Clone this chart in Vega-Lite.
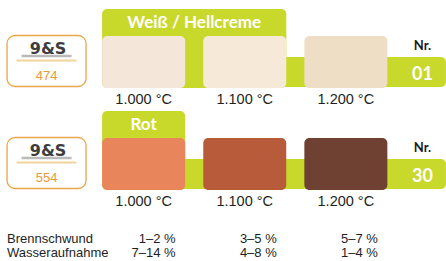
{
  "$schema": "https://vega.github.io/schema/vega-lite/v6.json",
  "padding": 0,
  "spacing": 0,
  "bounds": "flush",
  "background": "white",
  "config": {"view": {"stroke": null}},
  "datasets": {
    "produkte": [
      {"code": "474", "marke": "9&S", "name": "Weiß / Hellcreme", "nr": "01", "kopf_von": "1.000 °C", "kopf_bis": "1.100 °C"},
      {"code": "554", "marke": "9&S", "name": "Rot", "nr": "30", "kopf_von": "1.000 °C", "kopf_bis": "1.000 °C"}
    ],
    "proben": [
      {"code": "474", "temp": "1.000 °C", "probe": "474 bei 1.000 °C"},
      {"code": "474", "temp": "1.100 °C", "probe": "474 bei 1.100 °C"},
      {"code": "474", "temp": "1.200 °C", "probe": "474 bei 1.200 °C"},
      {"code": "554", "temp": "1.000 °C", "probe": "554 bei 1.000 °C"},
      {"code": "554", "temp": "1.100 °C", "probe": "554 bei 1.100 °C"},
      {"code": "554", "temp": "1.200 °C", "probe": "554 bei 1.200 °C"}
    ],
    "merkmale": [
      {"merkmal": "Brennschwund"},
      {"merkmal": "Wasseraufnahme"}
    ],
    "tabelle": [
      {"merkmal": "Brennschwund", "temp": "1.000 °C", "wert": "1–2 %"},
      {"merkmal": "Brennschwund", "temp": "1.100 °C", "wert": "3–5 %"},
      {"merkmal": "Brennschwund", "temp": "1.200 °C", "wert": "5–7 %"},
      {"merkmal": "Wasseraufnahme", "temp": "1.000 °C", "wert": "7–14 %"},
      {"merkmal": "Wasseraufnahme", "temp": "1.100 °C", "wert": "4–8 %"},
      {"merkmal": "Wasseraufnahme", "temp": "1.200 °C", "wert": "1–4 %"}
    ]
  },
  "vconcat": [
    {
      "width": 446,
      "height": 204,
      "resolve": {"scale": {"x": "independent"}},
      "layer": [
        {
          "layer": [
            {
              "data": {"name": "produkte"},
              "mark": {"type": "rect", "fill": "#c9d92c", "cornerRadius": 5, "height": 79, "yOffset": -2.5},
              "encoding": {
                "x": {"field": "kopf_von", "type": "nominal", "bandPosition": 0, "scale": {"type": "band", "domain": ["Probe", "1.000 °C", "1.100 °C", "1.200 °C", "Nr."], "range": [-8, 497.5], "paddingInner": 0.178, "paddingOuter": 0.089}, "axis": null},
                "x2": {"field": "kopf_bis", "bandPosition": 1},
                "y": {"field": "code", "type": "nominal", "scale": {"type": "band", "domain": ["474", "554"], "range": [0, 204], "paddingInner": 0, "paddingOuter": 0}, "axis": null}
              }
            },
            {
              "data": {"name": "produkte"},
              "mark": {"type": "rect", "fill": "#c9d92c", "cornerRadius": 5, "height": 30, "yOffset": 21, "x2Offset": -1},
              "encoding": {
                "x": {"field": "kopf_von", "type": "nominal", "bandPosition": 0.5, "scale": {"type": "band", "domain": ["Probe", "1.000 °C", "1.100 °C", "1.200 °C", "Nr."], "range": [-8, 497.5], "paddingInner": 0.178, "paddingOuter": 0.089}, "axis": null},
                "x2": {"datum": "Nr.", "bandPosition": 0.5},
                "y": {"field": "code", "type": "nominal", "scale": {"type": "band", "domain": ["474", "554"], "range": [0, 204], "paddingInner": 0, "paddingOuter": 0}, "axis": null}
              }
            },
            {
              "data": {"name": "proben"},
              "mark": {"type": "rect", "cornerRadius": 5, "width": 83, "height": 52, "yOffset": 11},
              "encoding": {
                "x": {"field": "temp", "type": "nominal", "scale": {"type": "band", "domain": ["Probe", "1.000 °C", "1.100 °C", "1.200 °C", "Nr."], "range": [-8, 497.5], "paddingInner": 0.178, "paddingOuter": 0.089}, "axis": null},
                "y": {"field": "code", "type": "nominal", "scale": {"type": "band", "domain": ["474", "554"], "range": [0, 204], "paddingInner": 0, "paddingOuter": 0}, "axis": null},
                "fill": {
                  "field": "probe", "type": "nominal", "legend": null,
                  "scale": {
                    "domain": ["474 bei 1.000 °C", "474 bei 1.100 °C", "474 bei 1.200 °C", "554 bei 1.000 °C", "554 bei 1.100 °C", "554 bei 1.200 °C"],
                    "range": ["#f5e6da", "#f7e9d8", "#efdec6", "#e8855a", "#b75b3b", "#6e4133"]
                  }
                }
              }
            },
            {
              "data": {"name": "proben"},
              "mark": {"type": "text", "font": "Arial, Liberation Sans, sans-serif", "fontSize": 14.5, "fill": "#231f20", "baseline": "alphabetic", "dy": 53},
              "encoding": {
                "x": {"field": "temp", "type": "nominal", "scale": {"type": "band", "domain": ["Probe", "1.000 °C", "1.100 °C", "1.200 °C", "Nr."], "range": [-8, 497.5], "paddingInner": 0.178, "paddingOuter": 0.089}, "axis": null},
                "y": {"field": "code", "type": "nominal", "scale": {"type": "band", "domain": ["474", "554"], "range": [0, 204], "paddingInner": 0, "paddingOuter": 0}, "axis": null},
                "text": {"field": "temp"}
              }
            },
            {
              "data": {"name": "produkte"},
              "mark": {"type": "rect", "fill": "white", "stroke": "#eaa449", "strokeWidth": 1.3, "cornerRadius": 8, "width": 79, "height": 51, "xOffset": 4, "yOffset": 10},
              "encoding": {
                "x": {"datum": "Probe", "type": "nominal", "scale": {"type": "band", "domain": ["Probe", "1.000 °C", "1.100 °C", "1.200 °C", "Nr."], "range": [-8, 497.5], "paddingInner": 0.178, "paddingOuter": 0.089}, "axis": null},
                "y": {"field": "code", "type": "nominal", "scale": {"type": "band", "domain": ["474", "554"], "range": [0, 204], "paddingInner": 0, "paddingOuter": 0}, "axis": null}
              }
            },
            {
              "data": {"name": "produkte"},
              "mark": {"type": "rect", "fill": "#8c8c8c", "opacity": 0.6, "width": 50, "height": 2.5, "xOffset": 4, "yOffset": 5},
              "encoding": {
                "x": {"datum": "Probe", "type": "nominal", "scale": {"type": "band", "domain": ["Probe", "1.000 °C", "1.100 °C", "1.200 °C", "Nr."], "range": [-8, 497.5], "paddingInner": 0.178, "paddingOuter": 0.089}, "axis": null},
                "y": {"field": "code", "type": "nominal", "scale": {"type": "band", "domain": ["474", "554"], "range": [0, 204], "paddingInner": 0, "paddingOuter": 0}, "axis": null}
              }
            },
            {
              "data": {"name": "produkte"},
              "mark": {"type": "rect", "fill": "#f1d39c", "width": 60, "height": 2, "xOffset": 4, "yOffset": 9.5},
              "encoding": {
                "x": {"datum": "Probe", "type": "nominal", "scale": {"type": "band", "domain": ["Probe", "1.000 °C", "1.100 °C", "1.200 °C", "Nr."], "range": [-8, 497.5], "paddingInner": 0.178, "paddingOuter": 0.089}, "axis": null},
                "y": {"field": "code", "type": "nominal", "scale": {"type": "band", "domain": ["474", "554"], "range": [0, 204], "paddingInner": 0, "paddingOuter": 0}, "axis": null}
              }
            },
            {
              "data": {"name": "produkte"},
              "mark": {"type": "text", "font": "DejaVu Sans", "fontWeight": "bold", "fontSize": 16, "letterSpacing": 3, "fill": "#3d3d3d", "baseline": "alphabetic", "dx": 5.5, "dy": 2.5},
              "encoding": {
                "x": {"datum": "Probe", "type": "nominal", "scale": {"type": "band", "domain": ["Probe", "1.000 °C", "1.100 °C", "1.200 °C", "Nr."], "range": [-8, 497.5], "paddingInner": 0.178, "paddingOuter": 0.089}, "axis": null},
                "y": {"field": "code", "type": "nominal", "scale": {"type": "band", "domain": ["474", "554"], "range": [0, 204], "paddingInner": 0, "paddingOuter": 0}, "axis": null},
                "text": {"field": "marke"}
              }
            },
            {
              "data": {"name": "produkte"},
              "mark": {"type": "text", "font": "Arial, Liberation Sans, sans-serif", "fontSize": 13, "fill": "#e8993b", "baseline": "alphabetic", "dx": 4, "dy": 29},
              "encoding": {
                "x": {"datum": "Probe", "type": "nominal", "scale": {"type": "band", "domain": ["Probe", "1.000 °C", "1.100 °C", "1.200 °C", "Nr."], "range": [-8, 497.5], "paddingInner": 0.178, "paddingOuter": 0.089}, "axis": null},
                "y": {"field": "code", "type": "nominal", "scale": {"type": "band", "domain": ["474", "554"], "range": [0, 204], "paddingInner": 0, "paddingOuter": 0}, "axis": null},
                "text": {"field": "code"}
              }
            },
            {
              "data": {"name": "produkte"},
              "mark": {"type": "text", "font": "Lato", "fontWeight": "bold", "fontSize": 13, "fill": "#1a1a1a", "baseline": "alphabetic", "dx": -24.5, "dy": -1},
              "encoding": {
                "x": {"datum": "Nr.", "type": "nominal", "scale": {"type": "band", "domain": ["Probe", "1.000 °C", "1.100 °C", "1.200 °C", "Nr."], "range": [-8, 497.5], "paddingInner": 0.178, "paddingOuter": 0.089}, "axis": null},
                "y": {"field": "code", "type": "nominal", "scale": {"type": "band", "domain": ["474", "554"], "range": [0, 204], "paddingInner": 0, "paddingOuter": 0}, "axis": null},
                "text": {"value": "Nr."}
              }
            },
            {
              "data": {"name": "produkte"},
              "mark": {"type": "text", "font": "Lato", "fontWeight": "bold", "fontSize": 18, "fill": "white", "baseline": "alphabetic", "dx": -24.5, "dy": 28.5},
              "encoding": {
                "x": {"datum": "Nr.", "type": "nominal", "scale": {"type": "band", "domain": ["Probe", "1.000 °C", "1.100 °C", "1.200 °C", "Nr."], "range": [-8, 497.5], "paddingInner": 0.178, "paddingOuter": 0.089}, "axis": null},
                "y": {"field": "code", "type": "nominal", "scale": {"type": "band", "domain": ["474", "554"], "range": [0, 204], "paddingInner": 0, "paddingOuter": 0}, "axis": null},
                "text": {"field": "nr"}
              }
            }
          ]
        },
        {
          "data": {"name": "produkte"},
          "mark": {"type": "text", "font": "Lato", "fontWeight": "bold", "fontSize": 17, "fill": "white", "baseline": "alphabetic", "dy": -23},
          "encoding": {
            "x": {"field": "name", "type": "nominal", "scale": {"type": "point", "domain": ["Weiß / Hellcreme", "Rot"], "range": [194.2, 143.6], "padding": 0}, "axis": null},
            "y": {"field": "code", "type": "nominal", "scale": {"type": "band", "domain": ["474", "554"], "range": [0, 204], "paddingInner": 0, "paddingOuter": 0}, "axis": null},
            "text": {"field": "name"}
          }
        }
      ]
    },
    {
      "width": 446,
      "height": 57,
      "layer": [
        {
          "data": {"name": "merkmale"},
          "mark": {"type": "text", "font": "Arial, Liberation Sans, sans-serif", "fontSize": 13, "fill": "#1e1e1e", "baseline": "alphabetic", "align": "left", "dx": -35.5},
          "encoding": {
            "x": {"datum": "Probe", "type": "nominal", "scale": {"type": "band", "domain": ["Probe", "1.000 °C", "1.100 °C", "1.200 °C", "Nr."], "range": [-8, 497.5], "paddingInner": 0.178, "paddingOuter": 0.089}, "axis": null},
            "y": {"field": "merkmal", "type": "nominal", "scale": {"type": "point", "domain": ["Brennschwund", "Wasseraufnahme"], "range": [39, 53.3], "padding": 0}, "axis": null},
            "text": {"field": "merkmal"}
          }
        },
        {
          "data": {"name": "tabelle"},
          "mark": {"type": "text", "font": "Arial, Liberation Sans, sans-serif", "fontSize": 13, "fill": "#1e1e1e", "baseline": "alphabetic", "align": "right", "dx": 32},
          "encoding": {
            "x": {"field": "temp", "type": "nominal", "scale": {"type": "band", "domain": ["Probe", "1.000 °C", "1.100 °C", "1.200 °C", "Nr."], "range": [-8, 497.5], "paddingInner": 0.178, "paddingOuter": 0.089}, "axis": null},
            "y": {"field": "merkmal", "type": "nominal", "scale": {"type": "point", "domain": ["Brennschwund", "Wasseraufnahme"], "range": [39, 53.3], "padding": 0}, "axis": null},
            "text": {"field": "wert"}
          }
        }
      ]
    }
  ]
}
